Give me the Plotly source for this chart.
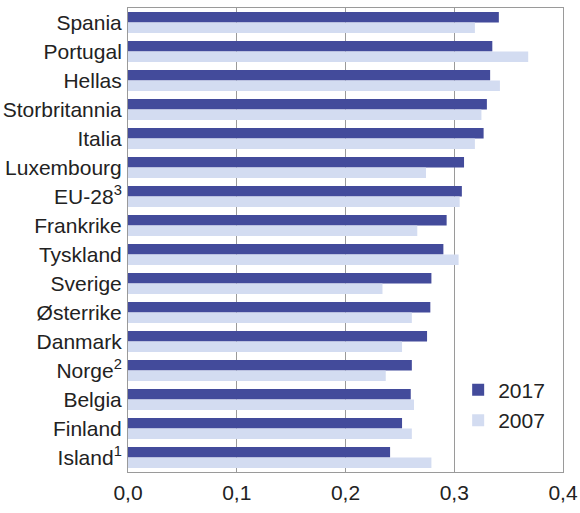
import plotly.graph_objects as go

categories = ["Spania", "Portugal", "Hellas", "Storbritannia", "Italia", "Luxembourg",
              "EU-28<sup>3</sup>", "Frankrike", "Tyskland", "Sverige", "Østerrike",
              "Danmark", "Norge<sup>2</sup>", "Belgia", "Finland", "Island<sup>1</sup>"]
values_2017 = [0.341, 0.335, 0.333, 0.330, 0.327, 0.309, 0.307, 0.293, 0.290, 0.279,
               0.278, 0.275, 0.261, 0.260, 0.252, 0.241]
values_2007 = [0.319, 0.368, 0.342, 0.325, 0.319, 0.274, 0.305, 0.266, 0.304, 0.234,
               0.261, 0.252, 0.237, 0.263, 0.261, 0.279]
tick_vals = [0.0, 0.1, 0.2, 0.3, 0.4]
tick_text = ["0,0", "0,1", "0,2", "0,3", "0,4"]

fig = go.Figure()
fig.add_trace(go.Bar(y=categories, x=values_2017, name="2017", orientation="h",
                     marker=dict(color="#434B9B", line=dict(width=0))))
fig.add_trace(go.Bar(y=categories, x=values_2007, name="2007", orientation="h",
                     marker=dict(color="#D3DCF1", line=dict(width=0))))

fig.update_layout(
    width=580, height=513,
    margin=dict(l=128, r=17, t=8, b=41),
    barmode="group", bargap=0.27, bargroupgap=0,
    plot_bgcolor="white", paper_bgcolor="white",
    font=dict(family="Liberation Sans, Arial, sans-serif", size=21, color="#222222"),
    legend=dict(x=0.759, y=0.144, xanchor="left", yanchor="middle",
                font=dict(size=21, color="#222222"), bgcolor="rgba(0,0,0,0)",
                itemwidth=30, tracegroupgap=4),
    showlegend=True,
)
fig.update_xaxes(range=[0, 0.4], tickvals=tick_vals, ticktext=tick_text,
                 showgrid=True, gridcolor="#9A9A9A", gridwidth=1,
                 showline=True, linecolor="#9A9A9A", linewidth=1, mirror=True,
                 zeroline=False, ticks="", ticklabelstandoff=2, automargin=False,
                 tickfont=dict(size=21))
fig.update_yaxes(autorange="reversed", showgrid=False,
                 showline=True, linecolor="#9A9A9A", linewidth=1, mirror=True,
                 ticks="", ticklabelstandoff=1, automargin=False,
                 tickfont=dict(size=21))

fig.write_html("out.html", config={"displayModeBar": False},
               post_script="document.body.style.margin='0';")
